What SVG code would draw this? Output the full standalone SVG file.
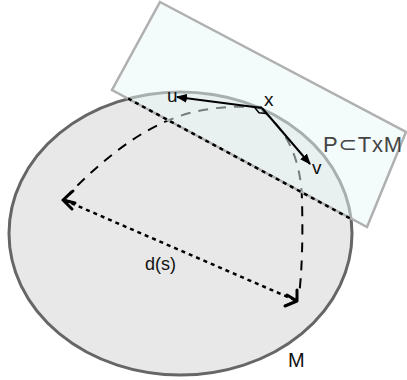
<svg xmlns="http://www.w3.org/2000/svg" width="407" height="380" viewBox="0 0 407 380">
<style>
.lbl{font-family:"Liberation Sans","DejaVu Sans",sans-serif;fill:#111}
.dash{fill:none;stroke:#000;stroke-width:2;stroke-dasharray:10 8}
.dot{fill:none;stroke:#000;stroke-width:2.5;stroke-dasharray:4 4}
.vec{fill:none;stroke:#000;stroke-width:2}
.head{fill:none;stroke:#000;stroke-width:3;stroke-linecap:round;stroke-linejoin:round}
</style>
<defs>
<marker id="solid" viewBox="0 0 10 10" refX="9" refY="5" markerWidth="11" markerHeight="11" orient="auto" markerUnits="userSpaceOnUse">
<path d="M0,1 L10,5 L0,9 Z" fill="#000"/>
</marker>
</defs>
<g id="manifold">
<ellipse cx="180.5" cy="233.5" rx="171.5" ry="141.5" fill="#e8e8e8" stroke="#666" stroke-width="3"/>
<text class="lbl" x="288" y="367" font-size="20">M</text>
</g>
<g id="connectors">
<path class="dash" d="M262,107 C200,105 150,110 64,199"/>
<path class="dash" d="M262,110 C288,132 301,160 302,200 C303,240 302,270 299,296"/>
</g>
<g id="plane">
<polygon points="160,2 406,132 367,227 112,90" fill="#e7f7f7" fill-opacity="0.5" stroke="#b0b0b0" stroke-width="2.5"/>
<text class="lbl" x="323" y="152" font-size="22" textLength="79" style="fill:#444">P⊂TxM</text>
</g>
<g id="distance">
<path class="dot" d="M128,98.5 L352,219.5" stroke-width="3"/>
<path class="dot" d="M64,200 L297,301"/>
<path class="head" d="M73,191 L63,200 L72,209 M63,200 L75,203"/>
<path class="head" d="M285,306 L297,301 L297,290 M297,301 L287,295"/>
<text class="lbl" x="145" y="270" font-size="18">d(s)</text>
</g>
<g id="vectors">
<path class="vec" d="M262,108 L177,97" marker-end="url(#solid)"/>
<path class="vec" d="M262,108 L310,164" marker-end="url(#solid)"/>
<path d="M254.5,107.2 L259,112.7 L266.5,113.6" fill="none" stroke="#000" stroke-width="1.5"/>
<text class="lbl" x="167" y="102" font-size="19">u</text>
<text class="lbl" x="264" y="106" font-size="19">x</text>
<text class="lbl" x="312" y="174" font-size="19">v</text>
</g>
</svg>
